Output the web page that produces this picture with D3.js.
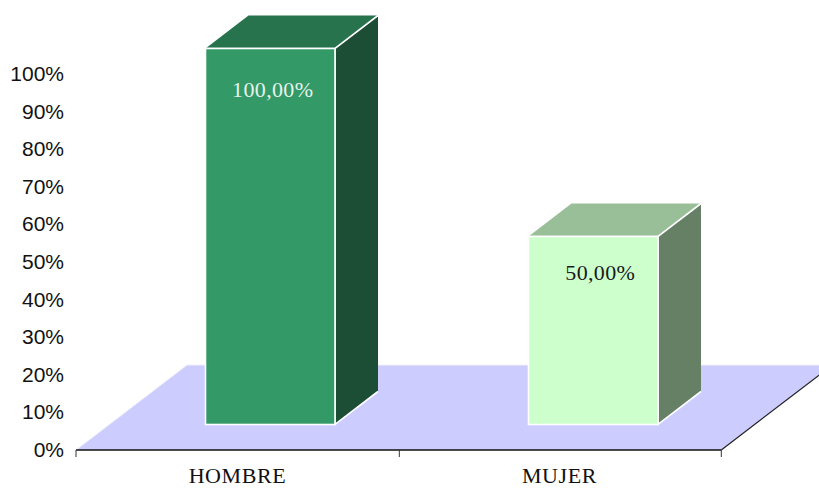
<!DOCTYPE html>
<html><head><meta charset="utf-8">
<script src="https://cdn.jsdelivr.net/npm/d3@7"></script>
<style>html,body{margin:0;padding:0;background:#fff}svg{display:block}</style>
</head><body><svg id="c" width="819" height="488"></svg>
<script>
const categories = ["HOMBRE", "MUJER"];
const values = [1.0, 0.5];
const valueLabels = ["100,00%", "50,00%"];
const frontColors = ["#339966", "#CCFFCC"];
const topColors = ["#26734D", "#99BF99"];
const sideColors = ["#1C4D35", "#668066"];
const labelColors = ["#E6F2EC", "#1a1a1a"];
const tickValues = [0, .1, .2, .3, .4, .5, .6, .7, .8, .9, 1];
const labelShiftX = [2.5, 7];
const labelShiftY = [48.5, 43.5];

const svg = d3.select("#c");
const x = d3.scaleBand().domain(categories).range([76, 722]);
const y = d3.scaleLinear().domain([0, 1]).range([450, 74]);
const floorDx = 111, floorDy = 85;
const frontDx = 129.5, frontDy = 25.5, barW = 129.5, depthX = 43, depthY = 33;
const line = pts => "M" + pts.map(p => p.join(",")).join("L") + "Z";

// floor
const x0 = x.range()[0], x1 = 721.3, y0 = y(0);
svg.append("path").attr("d", line([[x0,y0],[x0+floorDx,y0-floorDy],[x1+floorDx,y0-floorDy],[x1,y0]]))
  .attr("fill", "#CCCCFF").attr("stroke", "none");
svg.append("path").attr("d", `M${x0},${y0}L${x0+floorDx},${y0-floorDy}L${x1+floorDx},${y0-floorDy}`)
  .attr("fill", "none").attr("stroke", "#f0f0fa").attr("stroke-width", 1);
svg.append("line").attr("x1", x1).attr("y1", y0).attr("x2", x1+floorDx).attr("y2", y0-floorDy)
  .attr("stroke", "#222").attr("stroke-width", 1.2);

// bars
categories.forEach((c, i) => {
  const l = x(c) + frontDx, r = l + barW;
  const b = y(0) - frontDy, t = y(values[i]) - frontDy;
  const g = svg.append("g").attr("stroke", "#fff").attr("stroke-width", 1.6).attr("stroke-linejoin", "miter");
  g.append("path").attr("d", line([[l,t],[r,t],[r+depthX,t-depthY],[l+depthX,t-depthY]])).attr("fill", topColors[i]).attr("stroke", "none");
  g.append("path").attr("d", line([[r,t],[r+depthX,t-depthY],[r+depthX,b-depthY],[r,b]])).attr("fill", sideColors[i]).attr("stroke", "none");
  g.append("path").attr("d", `M${l},${t}H${r}L${r+depthX},${t-depthY}M${r},${t}V${b}L${r+depthX},${b-depthY}`).attr("fill", "none");
  g.append("rect").attr("x", l).attr("y", t).attr("width", barW).attr("height", b - t).attr("fill", frontColors[i]);
  svg.append("text").attr("x", l + barW/2 + labelShiftX[i]).attr("y", t + labelShiftY[i])
    .attr("text-anchor", "middle").attr("font-family", "'Liberation Serif', serif").attr("font-size", 22)
    .attr("letter-spacing", 0.35).attr("fill", labelColors[i]).text(valueLabels[i]);
});

// y labels
svg.append("g").selectAll("text").data(tickValues).join("text")
  .attr("x", 64).attr("y", d => y(d) + 7).attr("text-anchor", "end")
  .attr("font-family", "'Liberation Sans', Arial, sans-serif").attr("font-size", 21).attr("fill", "#111")
  .text(d => d3.format(".0%")(d));

// x axis
const axis = svg.append("g").attr("transform", `translate(0,${y0})`);
axis.append("line").attr("x1", x0).attr("x2", x1).attr("stroke", "#111").attr("stroke-width", 1.4);
[x0, x(categories[1]) + 0.3, x1].forEach(v => axis.append("line").attr("x1", v).attr("x2", v).attr("y1", 0).attr("y2", 7).attr("stroke", "#333"));
svg.append("g").selectAll("text").data(categories).join("text")
  .attr("x", d => x(d) + x.bandwidth()/2 + (d === categories[1] ? -1 : 0)).attr("y", 483).attr("text-anchor", "middle")
  .attr("font-family", "'Liberation Serif', serif").attr("font-size", 22).attr("letter-spacing", 0.6).attr("fill", "#111").text(d => d);
</script></body></html>
